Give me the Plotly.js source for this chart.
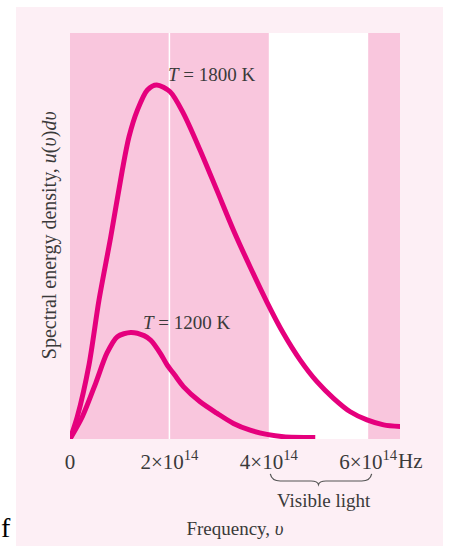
<!DOCTYPE html>
<html>
<head>
<meta charset="utf-8">
<script src="https://cdn.plot.ly/plotly-3.0.1.min.js"></script>
<style>html,body{margin:0;padding:0;background:#fff;}#chart{width:452px;height:546px;}</style>
</head>
<body>
<div id="chart"></div>
<script>
// Frequency in units of 10^14 Hz, spectral energy density in arbitrary units (1800 K peak = 100)
const freq1800 = [0, 0.147, 0.383, 0.584, 0.820, 1.053, 1.188, 1.356, 1.557, 1.746, 2.014, 2.282, 2.618, 2.955, 3.289, 3.625, 3.962, 4.296, 4.632, 4.969, 5.303, 5.639, 5.976, 6.310, 6.646];
const u1800 = [0, 6.3, 21.0, 39.3, 57.1, 76.0, 85.4, 92.9, 98.6, 100, 98.1, 92.0, 81.6, 70.3, 59.0, 48.6, 38.7, 29.8, 22.3, 16.2, 11.5, 7.7, 5.4, 4.0, 3.5];
const freq1200 = [0, 0.248, 0.518, 0.745, 0.953, 1.223, 1.49, 1.625, 1.827, 1.95, 2.10, 2.282, 2.618, 2.955, 3.289, 3.625, 3.962, 4.296, 4.935];
const u1200 = [0, 6.3, 15.8, 24.3, 28.9, 30.1, 29.2, 27.9, 24.0, 21.0, 18.2, 14.8, 10.5, 7.3, 4.4, 2.5, 1.3, 0.65, 0.4];
const tickVals = [0, 2, 4, 6];
const tickText = ['0', '2×10<sup>14</sup>', '4×10<sup>14</sup>', '6×10<sup>14</sup>'];
const unitLabel = 'Hz';
const visibleRange = [4.03, 6.07];
const braceTip = 5.0;
const xMax = 6.64;
const yMax = 114.7;

const curveColor = '#e5007d';
const bandColor = '#f9c6dd';
const panelColor = '#fdeff5';
const textColor = '#3a3a3a';
const serif = 'Liberation Serif, Times New Roman, serif';

const traces = [
  {x: freq1800, y: u1800, mode: 'lines', line: {color: curveColor, width: 5, shape: 'spline', smoothing: 0.8}, hoverinfo: 'skip'},
  {x: freq1200, y: u1200, mode: 'lines', line: {color: curveColor, width: 5, shape: 'spline', smoothing: 0.8}, hoverinfo: 'skip'}
];

// brace under the visible range
const a = visibleRange[0], b = visibleRange[1], m = braceTip;
const yT = -0.086, yM = -0.1035, yB = -0.112;
const bracePath = `M ${a},${yT} Q ${a+0.03},${yM} ${a+0.2},${yM} L ${m-0.15},${yM} Q ${m-0.02},${yM} ${m},${yB} Q ${m+0.02},${yM} ${m+0.15},${yM} L ${b-0.2},${yM} Q ${b-0.03},${yM} ${b},${yT}`;

const shapes = [
  {type: 'rect', xref: 'paper', yref: 'paper', x0: -0.1636, x1: 1.1303, y0: -0.32, y1: 1.064, fillcolor: panelColor, line: {width: 0}, layer: 'below'},
  {type: 'rect', xref: 'paper', yref: 'paper', x0: 0, x1: 1, y0: 0, y1: 1, fillcolor: '#ffffff', line: {width: 0}, layer: 'below'},
  {type: 'rect', xref: 'x', yref: 'paper', x0: 0, x1: 4, y0: 0, y1: 1, fillcolor: bandColor, line: {width: 0}, layer: 'below'},
  {type: 'rect', xref: 'x', yref: 'paper', x0: 6, x1: xMax, y0: 0, y1: 1, fillcolor: bandColor, line: {width: 0}, layer: 'below'},
  {type: 'line', xref: 'x', yref: 'paper', x0: 2, x1: 2, y0: 0, y1: 1, line: {color: '#ffffff', width: 1.5}, layer: 'below'},
  {type: 'path', xref: 'x', yref: 'paper', path: bracePath, line: {color: '#555555', width: 1.2}}
];

const annotations = [
  {x: 2.86, y: 103, xref: 'x', yref: 'y', xanchor: 'center', yanchor: 'middle', text: '<i>T</i> = 1800 K', showarrow: false, font: {family: serif, size: 19, color: textColor}},
  {x: 2.36, y: 32.8, xref: 'x', yref: 'y', xanchor: 'center', yanchor: 'middle', text: '<i>T</i> = 1200 K', showarrow: false, font: {family: serif, size: 19, color: textColor}},
  {x: 6, y: -0.055, xref: 'x', yref: 'paper', xanchor: 'left', yanchor: 'middle', xshift: 28, text: unitLabel, showarrow: false, font: {family: serif, size: 21, color: textColor}},
  {x: 5.12, y: -0.152, xref: 'x', yref: 'paper', xanchor: 'center', yanchor: 'middle', text: 'Visible light', showarrow: false, font: {family: serif, size: 19, color: textColor}},
  {x: -0.0636, y: 0.502, xref: 'paper', yref: 'paper', xanchor: 'center', yanchor: 'middle', textangle: -90, text: 'Spectral energy density, <i>u</i>(<i>υ</i>)<i>dυ</i>', showarrow: false, font: {family: serif, size: 20, color: textColor}},
  {x: -0.214, y: -0.217, xref: 'paper', yref: 'paper', xanchor: 'left', yanchor: 'middle', text: 'f', showarrow: false, font: {family: serif, size: 28, color: '#000000'}}
];

const layout = {
  width: 452, height: 546,
  margin: {l: 70, r: 52, t: 33, b: 107},
  paper_bgcolor: '#ffffff',
  plot_bgcolor: 'rgba(0,0,0,0)',
  showlegend: false,
  xaxis: {
    range: [0, xMax], tickvals: tickVals, ticktext: tickText,
    showgrid: false, zeroline: false, showline: false, ticks: '',
    ticklabelstandoff: 8,
    tickfont: {family: serif, size: 21, color: textColor},
    title: {text: 'Frequency, <i>υ</i>', font: {family: serif, size: 19, color: textColor}, standoff: 48},
    fixedrange: true
  },
  yaxis: {
    range: [0, yMax], showgrid: false, zeroline: false, showline: false, ticks: '', showticklabels: false,
    fixedrange: true
  },
  shapes: shapes,
  annotations: annotations
};

Plotly.newPlot('chart', traces, layout, {displayModeBar: false, staticPlot: true});
</script>
</body>
</html>
